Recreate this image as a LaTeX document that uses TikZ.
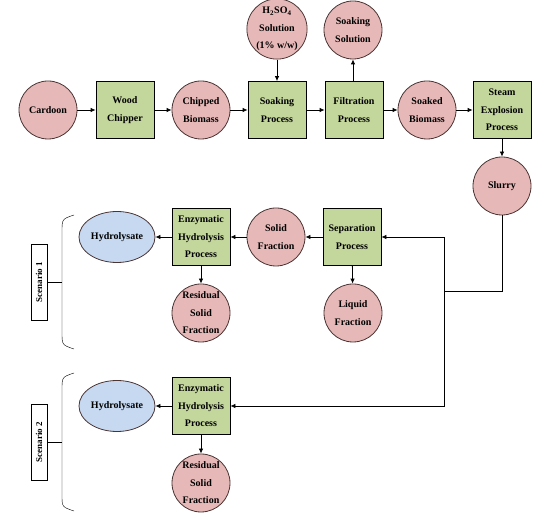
\documentclass[tikz,border=0pt]{standalone}
\usepackage{fontspec}
\setmainfont{Liberation Serif}
\usetikzlibrary{arrows.meta,shapes.geometric}

\definecolor{pinkfill}{HTML}{E6B9B8}
\definecolor{greenfill}{HTML}{C3D69B}
\definecolor{bluefill}{HTML}{C6D9F1}
\definecolor{rimdark}{HTML}{4A3434}

\tikzset{
  stuff/.style={circle, draw=rimdark, fill=pinkfill, thick, minimum size=58pt,
    inner sep=0pt, align=center, font=\bfseries\fontsize{10}{17.5}\selectfont},
  unit/.style={rectangle, draw=black, fill=greenfill, thick, minimum width=58pt,
    minimum height=57pt, inner sep=0pt, align=center,
    font=\bfseries\fontsize{10}{17.5}\selectfont},
  product/.style={ellipse, draw=rimdark, fill=bluefill, thick, minimum width=76pt,
    minimum height=51pt, inner sep=0pt, font=\bfseries\fontsize{10}{12}\selectfont},
  caselabel/.style={rectangle, draw=black, thick, fill=white, rotate=90,
    minimum width=76pt, minimum height=16pt, inner sep=0pt,
    font=\bfseries\fontsize{9}{10}\selectfont},
  flow/.style={thick, -{Latex[length=5pt,width=4.5pt]}}
}

\begin{document}
\begin{tikzpicture}[x=1pt,y=-1pt]
\useasboundingbox (0,0) rectangle (550,513);

% main line
\node[stuff] (cardoon) at (48,110) {Cardoon};
\node[unit] (chipper) at (125,110) {Wood\\Chipper};
\node[stuff] (chipped) at (201,110) {Chipped\\Biomass};
\node[unit] (soaking) at (277,110) {Soaking\\Process};
\node[stuff] (acid) at (277,29) {H\textsubscript{2}SO\textsubscript{4}\\Solution\\(1\% w/w)};
\node[unit] (filtration) at (354,110) {Filtration\\Process};
\node[stuff] (solution) at (353,30) {Soaking\\Solution};
\node[stuff] (soaked) at (427,110) {Soaked\\Biomass};
\node[unit] (steam) at (502,110) {Steam\\Explosion\\Process};
\node[stuff] (slurry) at (502,186) {Slurry};
\coordinate (split) at (444,291);

% scenario 1
\node[unit] (separation) at (352,237) {Separation\\Process};
\node[stuff] (solid) at (276,237) {Solid\\Fraction};
\node[stuff] (liquid) at (353,313) {Liquid\\Fraction};
\node[unit] (enzA) at (201,237) {Enzymatic\\Hydrolysis\\Process};
\node[product] (hydA) at (117,237) {Hydrolysate};
\node[stuff] (residA) at (201,313) {Residual\\Solid\\Fraction};
\node[caselabel] (caseA) at (39,282) {Scenario 1};

% scenario 2
\node[unit] (enzB) at (201,406) {Enzymatic\\Hydrolysis\\Process};
\node[product] (hydB) at (117,406) {Hydrolysate};
\node[stuff] (residB) at (201,483) {Residual\\Solid\\Fraction};
\node[caselabel] (caseB) at (39,442) {Scenario 2};

% arrows
\draw[flow] (cardoon) -- (chipper);
\draw[flow] (chipper) -- (chipped);
\draw[flow] (chipped) -- (soaking);
\draw[flow] (acid) -- (soaking);
\draw[flow] (soaking) -- (filtration);
\draw[flow] (filtration.north -| solution) -- (solution);
\draw[flow] (filtration) -- (soaked);
\draw[flow] (soaked) -- (steam);
\draw[flow] (steam) -- (slurry);
\draw[thick] (slurry.south) |- (split);
\draw[flow] (split) |- (separation.east);
\draw[flow] (split) |- (enzB.east);
\draw[flow] (separation) -- (solid);
\draw[flow] (separation) -- (liquid);
\draw[flow] (solid) -- (enzA);
\draw[flow] (enzA) -- (hydA);
\draw[flow] (enzA) -- (residA);
\draw[flow] (enzB) -- (hydB);
\draw[flow] (enzB) -- (residB);

% brackets
\draw[thin] (74,215) .. controls (62,219) .. (62,232) -- (62,332) .. controls (62,345) .. (74,349);
\draw[thin] (caseA.south) -- (62,282);
\draw[thin] (74,373) .. controls (62,377) .. (62,390) -- (62,495) .. controls (62,507) .. (74,511);
\draw[thin] (caseB.south) -- (62,442);
\end{tikzpicture}
\end{document}
